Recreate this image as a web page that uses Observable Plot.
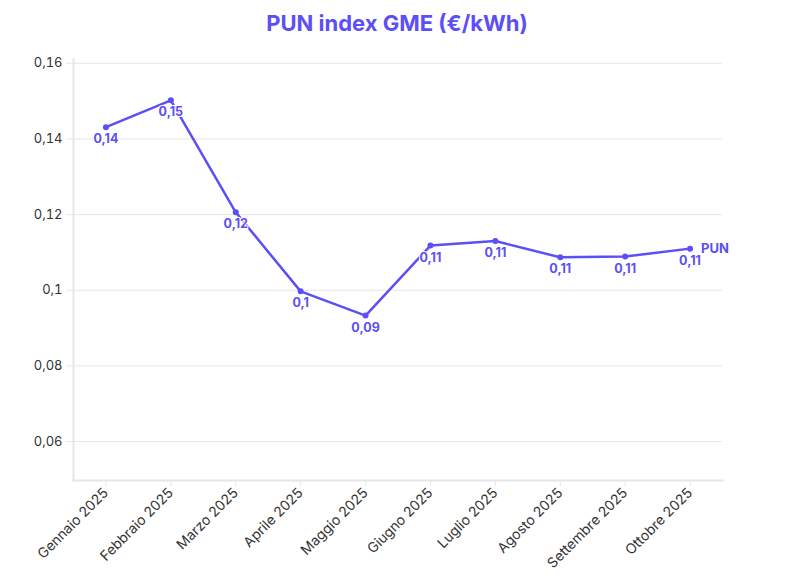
<!DOCTYPE html>
<html><head><meta charset="utf-8">
<script src="https://cdn.jsdelivr.net/npm/d3@7"></script>
<script src="https://cdn.jsdelivr.net/npm/@observablehq/plot@0.6"></script>
<style>
body{margin:0;background:#fff;font-family:Inter,"Noto Sans",sans-serif;}
#title{height:44px;line-height:46px;text-align:center;font-size:22px;font-weight:700;color:#5B4FF5;}
</style></head>
<body>
<div id="title">PUN index GME (€/kWh)</div>
<div id="chart"></div>
<script>
const months = ["Gennaio 2025","Febbraio 2025","Marzo 2025","Aprile 2025","Maggio 2025","Giugno 2025","Luglio 2025","Agosto 2025","Settembre 2025","Ottobre 2025"];
const values = [0.1431,0.1502,0.1206,0.0997,0.0933,0.1118,0.1130,0.1087,0.1089,0.1110];
const yTicks = [0.06,0.08,0.10,0.12,0.14,0.16];
const seriesName = "PUN";

const color = "#5B4FF5";
const fmt = v => String(+v.toFixed(2)).replace(".", ",");
const data = months.map((m,i)=>({month:m, value:values[i]}));
const last = data[data.length-1];

const chart = Plot.plot({
  width: 794, height: 544,
  marginTop: 15, marginBottom: 108, marginLeft: 73, marginRight: 72,
  style: {fontFamily: "Inter, 'Noto Sans', sans-serif", fontSize: "13px", color: "#333"},
  x: {type: "point", domain: months, padding: 0.5, round: false, label: null},
  y: {domain: [0.0497, 0.161], label: null},
  marks: [
    Plot.gridY(yTicks, {stroke: "#e6e6e6", strokeOpacity: 1, strokeWidth: 1}),
    Plot.axisY({ticks: yTicks, tickFormat: fmt, stroke: "#e6e6e6", tickSize: 7, tickPadding: 4, label: null, fontSize: 13, fill: "#333"}),
    Plot.axisX({tickRotate: -45, stroke: "#e6e6e6", tickSize: 6, tickPadding: 4, label: null, fontSize: 14, fill: "#333"}),
    Plot.frame({anchor: "left", stroke: "#e6e6e6", strokeWidth: 2}),
    Plot.frame({anchor: "bottom", stroke: "#e6e6e6", strokeWidth: 2}),
    Plot.line(data, {x: "month", y: "value", stroke: color, strokeWidth: 2.5}),
    Plot.dot(data, {x: "month", y: "value", fill: color, r: 3}),
    Plot.text(data, {x: "month", y: "value", text: d => fmt(d.value), dy: 12, fill: color, stroke: "white", strokeWidth: 2, fontWeight: 700, fontSize: 12.5}),
    Plot.text([last], {x: "month", y: "value", text: () => seriesName, dx: 11, textAnchor: "start", fill: color, stroke: "white", strokeWidth: 2, fontWeight: 700, fontSize: 13})
  ]
});
document.getElementById("chart").appendChild(chart);
</script>
</body></html>
